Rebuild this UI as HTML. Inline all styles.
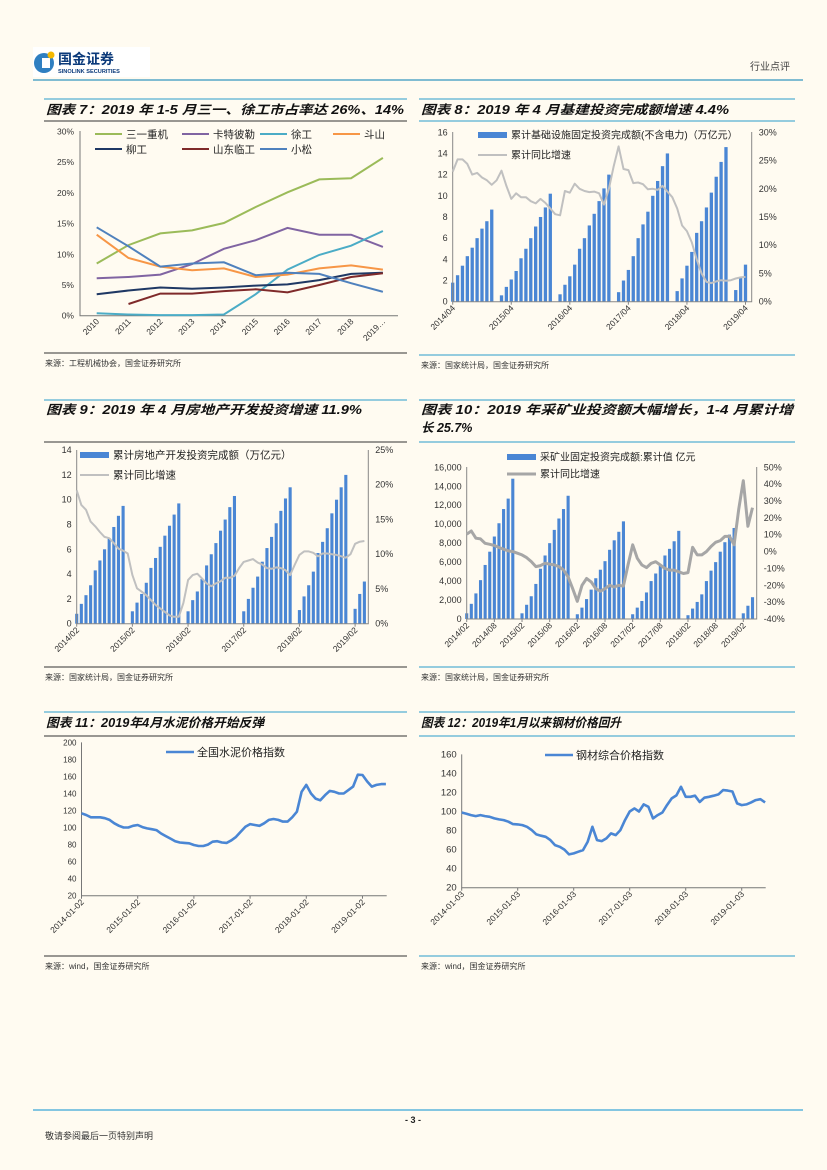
<!DOCTYPE html>
<html><head><meta charset="utf-8">
<style>
html,body{margin:0;padding:0;background:#fffbf1;}
svg{display:block;font-family:"Liberation Sans","Noto Sans CJK SC",sans-serif;}
.t{font-weight:bold;font-style:italic;font-size:12.5px;fill:#111;}
.src{font-size:8px;fill:#333;}
</style></head>
<body>
<svg id="page" width="827" height="1170" viewBox="0 0 827 1170" xmlns="http://www.w3.org/2000/svg">
<rect width="827" height="1170" fill="#fffbf1"/>
<g>
  <rect x="33" y="47" width="117" height="30" fill="#fff"/>
  <circle cx="44" cy="63" r="10" fill="#2f7fc1"/>
  <rect x="42" y="58" width="8" height="10" fill="#fff"/>
  <circle cx="51" cy="55" r="3.5" fill="#f5b800"/>
  <text x="58" y="64" font-size="14" font-weight="bold" fill="#0b3a7a">国金证券</text>
  <text x="58" y="73" font-size="5.6" font-weight="bold" fill="#0b3a7a">SINOLINK SECURITIES</text>
  <text x="790" y="70" font-size="10" text-anchor="end" fill="#444">行业点评</text>
  <line x1="33" y1="80" x2="803" y2="80" stroke="#56a7c8" stroke-width="1.5"/>
</g>
<line x1="44" y1="99" x2="407" y2="99" stroke="#56b0d4" stroke-width="1.2"/>
<text class="t" x="46" y="114" textLength="358" lengthAdjust="spacingAndGlyphs">图表 7：2019 年 1-5 月三一、徐工市占率达 26%、14%</text>
<line x1="44" y1="121" x2="407" y2="121" stroke="#333" stroke-width="1"/>
<line x1="44" y1="353" x2="407" y2="353" stroke="#333" stroke-width="1"/>
<text class="src" x="45" y="366">来源：工程机械协会，国金证券研究所</text>

<line x1="419" y1="99" x2="795" y2="99" stroke="#56b0d4" stroke-width="1.2"/>
<text class="t" x="421" y="114" textLength="308" lengthAdjust="spacingAndGlyphs">图表 8：2019 年 4 月基建投资完成额增速 4.4%</text>
<line x1="419" y1="121" x2="795" y2="121" stroke="#56b0d4" stroke-width="1.2"/>
<line x1="419" y1="355" x2="795" y2="355" stroke="#56b0d4" stroke-width="1.2"/>
<text class="src" x="421" y="368">来源：国家统计局，国金证券研究所</text>

<line x1="44" y1="400" x2="407" y2="400" stroke="#56b0d4" stroke-width="1.2"/>
<text class="t" x="46" y="414" textLength="316" lengthAdjust="spacingAndGlyphs">图表 9：2019 年 4 月房地产开发投资增速 11.9%</text>
<line x1="44" y1="442" x2="407" y2="442" stroke="#333" stroke-width="1"/>
<line x1="44" y1="667" x2="407" y2="667" stroke="#333" stroke-width="1"/>
<text class="src" x="45" y="680">来源：国家统计局，国金证券研究所</text>

<line x1="419" y1="400" x2="795" y2="400" stroke="#56b0d4" stroke-width="1.2"/>
<text class="t" x="421" y="414" textLength="372" lengthAdjust="spacingAndGlyphs">图表 10：2019 年采矿业投资额大幅增长，1-4 月累计增</text>
<text class="t" x="421" y="432">长 25.7%</text>
<line x1="419" y1="442" x2="795" y2="442" stroke="#56b0d4" stroke-width="1.2"/>
<line x1="419" y1="667" x2="795" y2="667" stroke="#56b0d4" stroke-width="1.2"/>
<text class="src" x="421" y="680">来源：国家统计局，国金证券研究所</text>

<line x1="44" y1="712" x2="407" y2="712" stroke="#56b0d4" stroke-width="1.2"/>
<text class="t" x="46" y="727" textLength="218" lengthAdjust="spacingAndGlyphs">图表 11：2019年4月水泥价格开始反弹</text>
<line x1="44" y1="736" x2="407" y2="736" stroke="#333" stroke-width="1"/>
<line x1="44" y1="956" x2="407" y2="956" stroke="#333" stroke-width="1"/>
<text class="src" x="45" y="969">来源：wind，国金证券研究所</text>

<line x1="419" y1="712" x2="795" y2="712" stroke="#56b0d4" stroke-width="1.2"/>
<text class="t" x="421" y="727" textLength="200" lengthAdjust="spacingAndGlyphs">图表 12：2019年1月以来钢材价格回升</text>
<line x1="419" y1="736" x2="795" y2="736" stroke="#56b0d4" stroke-width="1.2"/>
<line x1="419" y1="956" x2="795" y2="956" stroke="#56b0d4" stroke-width="1.2"/>
<text class="src" x="421" y="969">来源：wind，国金证券研究所</text>

<g>
  <line x1="33" y1="1110" x2="803" y2="1110" stroke="#3aa6d8" stroke-width="1.2"/>
  <text x="413" y="1123" font-size="9" font-weight="bold" text-anchor="middle" fill="#222">- 3 -</text>
  <text x="45" y="1139" font-size="9" fill="#333">敬请参阅最后一页特别声明</text>
</g>
<g id="charts"></g>
</svg>
<script>
// ---------- Chart 7 data ----------
const cats7 = ["2010","2011","2012","2013","2014","2015","2016","2017","2018","2019…"];
const sany7 = [8.5,11.5,13.4,13.9,15.1,17.7,20.1,22.2,22.4,25.7];
const cat7 = [6.1,6.3,6.7,8.4,10.9,12.3,14.3,13.2,13.2,11.2];
const xcmg7 = [0.4,0.2,0.1,0.1,0.2,3.5,7.5,9.9,11.4,13.8];
const doosan7 = [13.2,9.4,8.0,7.4,7.7,6.3,6.7,7.7,8.2,7.5];
const liugong7 = [3.5,4.1,4.6,4.4,4.6,4.9,5.1,5.8,6.8,7.0];
const sdlg7 = [null,1.9,3.6,3.6,4.0,4.3,3.8,5.0,6.3,6.9];
const komatsu7 = [14.4,11.3,8.0,8.5,8.7,6.6,7.0,6.8,5.3,3.9];
const names7 = ["三一重机","卡特彼勒","徐工","斗山","柳工","山东临工","小松"];
const yticks7 = [0,5,10,15,20,25,30];
// ---------- Chart 8 data ----------
const xlabels8 = ["2014/04","2015/04","2016/04","2017/04","2018/04","2019/04"];
const bars8 = [1.8,2.5,3.4,4.3,5.1,6.0,6.9,7.6,8.7,null,0.6,1.4,2.1,2.9,4.1,5.0,6.0,7.1,8.0,8.9,10.2,null,0.7,1.6,2.4,3.5,5.0,6.0,7.2,8.3,9.5,10.7,12.0,null,0.9,2.0,3.0,4.3,6.0,7.3,8.5,10.0,11.4,12.8,14.0,null,1.0,2.2,3.4,4.7,6.5,7.6,8.9,10.3,11.8,13.2,14.6,null,1.1,2.3,3.5];
const growth8 = [23.0,25.2,25.2,24.4,22.5,22.8,22.0,21.5,20.7,21.5,23.2,20.5,18.2,19.2,18.5,18.5,17.8,17.4,18.2,17.5,16.5,15.5,15.3,19.6,19.3,20.9,20.0,19.6,19.4,19.5,19.2,17.2,20.0,24.0,27.5,23.5,23.3,21.0,21.1,20.8,19.9,20.0,19.8,20.5,19.5,18.5,16.5,13.5,12.5,10.5,7.5,5.0,3.5,3.3,3.6,3.8,3.7,3.8,4.1,4.3,4.4];
const lticks8 = [0,2,4,6,8,10,12,14,16];
const rticks8 = [0,5,10,15,20,25,30];
// ---------- Chart 9 data ----------
const xlabels9 = ["2014/02","2015/02","2016/02","2017/02","2018/02","2019/02"];
const bars9 = [0.8,1.6,2.3,3.1,4.3,5.1,6.0,6.9,7.8,8.7,9.5,null,1.0,1.7,2.4,3.3,4.5,5.3,6.2,7.1,7.9,8.8,9.7,null,1.0,1.9,2.6,3.6,4.7,5.6,6.5,7.5,8.4,9.4,10.3,null,1.0,2.0,2.9,3.8,5.0,6.1,7.0,8.1,9.1,10.1,11.0,null,1.1,2.2,3.1,4.2,5.7,6.6,7.7,8.9,10.0,11.0,12.0,null,1.2,2.4,3.4];
const growth9 = [19.2,17.1,16.4,14.7,14.0,13.2,12.5,12.3,11.6,10.8,10.5,10.1,7.0,5.1,4.6,4.1,3.4,2.7,2.2,1.7,1.2,1.0,1.0,3.0,6.3,7.0,7.2,6.5,5.8,5.4,5.8,6.1,6.6,6.6,6.9,8.0,8.9,9.1,9.3,8.8,8.5,8.0,7.9,8.1,8.0,7.7,7.0,8.5,9.9,10.4,10.4,10.2,9.7,10.1,10.1,10.0,9.9,9.7,9.5,10.0,11.5,11.8,11.9];
const lticks9 = [0,2,4,6,8,10,12,14];
const rticks9 = [0,5,10,15,20,25];
// ---------- Chart 10 data ----------
const xlabels10 = ["2014/02","2014/08","2015/02","2015/08","2016/02","2016/08","2017/02","2017/08","2018/02","2018/08","2019/02"];
const bars10 = [600,1600,2700,4100,5700,7100,8700,10100,11600,12700,14800,null,600,1500,2400,3700,5300,6700,8000,9400,10600,11600,13000,null,500,1200,2100,3100,4300,5200,6100,7300,8300,9200,10300,null,500,1200,1900,2800,4000,4800,5700,6700,7400,8200,9300,null,400,1100,1800,2600,4000,5100,6000,7100,8100,8900,9600,null,600,1400,2300];
const growth10 = [10.3,12.2,7.9,7.5,4.9,4.3,3.6,2.4,1.4,0.4,0,-1,-2,-3.6,-5.9,-8.9,-8.3,-6.9,-7.5,-7.9,-8.9,-10.9,-15,-22,-29.5,-20,-16,-18,-22,-23.5,-22,-20,-21,-20,-20.5,-8,4,-4,-8,-9.5,-7,-6,-8,-10,-11,-11,-12,-13,-12.5,2.5,-2,-2,0,3,5.5,6.5,9,9,4,25,42,15,26];
const lticks10 = [0,2000,4000,6000,8000,10000,12000,14000,16000];
const rticks10 = [-40,-30,-20,-10,0,10,20,30,40,50];
// ---------- Chart 11 data ----------
const xlabels11 = ["2014-01-02","2015-01-02","2016-01-02","2017-01-02","2018-01-02","2019-01-02"];
const cement11 = [116.7,114.7,112,112,112,111,109,105,102,100,100,102,103,100.5,99,98,97,93,90,87,84,82.5,82,81.5,79.5,78.3,78.3,80,83.4,84,82.5,82,85,89,95,101,104,103,102,105,109,110,109,107,107,112,118.6,142,150,140,134,132,138,143,142,140,140,144,148,162,161.7,154,148,150,151,151];
const yticks11 = [20,40,60,80,100,120,140,160,180,200];
// ---------- Chart 12 data ----------
const xlabels12 = ["2014-01-03","2015-01-03","2016-01-03","2017-01-03","2018-01-03","2019-01-03"];
const steel12 = [99,97.7,96.3,95.2,96.3,95.2,94.5,92.8,91.7,91,89.3,86.8,86.5,85.8,84,80.5,76,74.6,73.5,70,64.8,63,60,55,56,57.8,59.5,68.3,84,70,69,71.8,77,75.2,80.5,91,100,103.3,100,107.5,105,92.8,96.3,99,106.8,113.8,117,126,115.5,115.5,116.6,110,114.5,115.5,116.6,118,122.5,122,121,108.5,106.8,107.5,109.6,112,113,109.6];
const yticks12 = [20,40,60,80,100,120,140,160];

const NS = 'http://www.w3.org/2000/svg';
const root = document.getElementById('charts');
function mk(tag, attrs, parent){const e=document.createElementNS(NS,tag);for(const k in attrs)e.setAttribute(k,attrs[k]);(parent||root).appendChild(e);return e;}
function tx(str, attrs, parent){const e=mk('text',attrs,parent);e.textContent=str;return e;}
function pathOf(vals, xf, yf){let d='',pen=false;vals.forEach((v,i)=>{if(v===null||v===undefined){pen=false;return;}d+=(pen?'L':'M')+xf(i).toFixed(1)+' '+yf(v).toFixed(1)+' ';pen=true;});return d;}
function rotLabel(g, str, x, y, fs){const t=tx(str,{x:x,y:y,'font-size':fs||8,fill:'#333','text-anchor':'end',transform:'rotate(-45 '+x+' '+y+')'},g);return t;}

// ===== Chart 7 =====
(function(){
  const g = mk('g',{});
  
  
  const x = i => 96.7 + i*31.8;
  const y = v => 315.7 - v*6.14;
  yticks7.forEach(v=>{
    const t = tx(v+'%',{x:74,y:y(v)+3,'text-anchor':'end','font-size':8.5,fill:'#333'},g);
    
    
  });
  const ax = mk('path',{d:'M80 131V315.7H398',fill:'none',stroke:'#777','stroke-width':1},g);
  
  
  cats7.forEach((c,i)=>{
    const t = rotLabel(g,c,x(i)+3,322,8.5);
    
    
  });
  const series = [sany7,cat7,xcmg7,doosan7,liugong7,sdlg7,komatsu7];
  const colors = ['#9bbb59','#8064a2','#4bacc6','#f79646','#1f3864','#7f2a2a','#4f81bd'];
  series.forEach((s,k)=>{
    const p = mk('path',{d:pathOf(s,x,y),fill:'none',stroke:colors[k],'stroke-width':2},g);
    
    
  });
  const lx = [95,182,260,333,95,182,260];
  const ly = [134,134,134,134,149,149,149];
  names7.forEach((n,k)=>{
    const l = mk('line',{x1:lx[k],y1:ly[k],x2:lx[k]+27,y2:ly[k],stroke:colors[k],'stroke-width':2},g);
    
    
    const t = tx(n,{x:lx[k]+31,y:ly[k]+4,'font-size':10.5,fill:'#222'},g);
    
    
  });
})();

function dualChart(o){
  const g = mk('g',{});
  
  
  const x = i => o.x0 + i*o.dx;
  const yl = v => o.yb - (v-o.lmin)*o.lk;
  const yr = v => o.yb - (v-o.rmin)*o.rk;
  o.bars.forEach((v,i)=>{
    if(v===null) return;
    const r = mk('rect',{x:x(i)-o.bw/2,y:yl(v),width:o.bw,height:o.yb-yl(v),fill:'#4a86d4'},g);
    
    
  });
  const ax = mk('path',{d:'M'+o.axL+' '+o.ytop+'V'+o.yb+'H'+o.axR+'V'+o.ytop,fill:'none',stroke:'#888','stroke-width':1},g);
  
  
  const p = mk('path',{d:pathOf(o.line,x,yr),fill:'none',stroke:o.lc,'stroke-width':o.lw,'stroke-linejoin':'round'},g);
  
  
  o.lt.forEach(v=>{
    const t = tx(o.lfmt(v),{x:o.axL-5,y:yl(v)+3,'text-anchor':'end','font-size':9,fill:'#333'},g);
    
    
  });
  o.rt.forEach(v=>{
    const t = tx(v+'%',{x:o.axR+7,y:yr(v)+3,'font-size':9,fill:'#333'},g);
    
    
  });
  o.xl.forEach((s,k)=>{
    const xi = x(k*o.xstep);
    const tk = mk('line',{x1:xi,y1:o.yb,x2:xi,y2:o.yb+3,stroke:'#888'},g);
    
    
    const t = rotLabel(g,s,xi+3,o.yb+7,8.5);
    
    
  });
  const sw = mk('rect',{x:o.legX,y:o.legY-3,width:29,height:6,fill:'#4a86d4'},g);
  
  
  const t1 = tx(o.leg1,{x:o.legX+33,y:o.legY+3.5,'font-size':o.lfs,fill:'#222'},g);
  
  
  const sl = mk('line',{x1:o.legX,y1:o.legY+o.legGap,x2:o.legX+29,y2:o.legY+o.legGap,stroke:o.lc,'stroke-width':o.lw},g);
  
  
  const t2 = tx('累计同比增速',{x:o.legX+33,y:o.legY+o.legGap+3.5,'font-size':o.lfs,fill:'#222'},g);
  
  
}

dualChart({name:'chart8',x0:452.7,dx:4.88,bw:3.3,yb:301.7,ytop:132,lmin:0,lk:10.59,rmin:0,rk:5.647,axL:452.7,axR:751.7,
  bars:bars8,line:growth8,lc:'#c0c0c0',lw:2,lt:lticks8,rt:rticks8,lfmt:v=>String(v),xl:xlabels8,xstep:12,
  legX:478,legY:135,legGap:20,lfs:10,leg1:'累计基础设施固定投资完成额(不含电力)（万亿元）'});
dualChart({name:'chart9',x0:76.7,dx:4.64,bw:3.1,yb:623.7,ytop:450,lmin:0,lk:12.4,rmin:0,rk:6.948,axL:76.7,axR:368.3,
  bars:bars9,line:growth9,lc:'#c0c0c0',lw:2,lt:lticks9,rt:rticks9,lfmt:v=>String(v),xl:xlabels9,xstep:12,
  legX:80,legY:455,legGap:20,lfs:10.5,leg1:'累计房地产开发投资完成额（万亿元）'});
dualChart({name:'chart10',x0:466.7,dx:4.61,bw:3.1,yb:619,ytop:467,lmin:0,lk:0.00948,rmin:-40,rk:1.686,axL:466.7,axR:756.7,
  bars:bars10,line:growth10,lc:'#a6a6a6',lw:3,lt:lticks10,rt:rticks10,lfmt:v=>v.toLocaleString('en-US'),xl:xlabels10,xstep:6,
  legX:507,legY:457,legGap:17,lfs:10,leg1:'采矿业固定投资完成额:累计值 亿元'});

function priceChart(o){
  const g = mk('g',{});
  
  
  const x = m => o.x0 + m*o.dx;
  const y = v => o.yb - (v-20)*o.k;
  o.yt.forEach(v=>{
    const t = tx(String(v),{x:o.x0-5,y:y(v)+3,'text-anchor':'end','font-size':o.fs,fill:'#333'},g);
    
    
  });
  const ax = mk('path',{d:'M'+o.x0+' '+y(o.yt[o.yt.length-1])+'V'+o.yb+'H'+o.xr,fill:'none',stroke:'#777','stroke-width':1},g);
  
  
  o.xl.forEach((s,k)=>{
    const xi = x(k*12);
    const tk = mk('line',{x1:xi,y1:o.yb,x2:xi,y2:o.yb+3,stroke:'#777'},g);
    
    
    const t = rotLabel(g,s,xi+3,o.yb+7,8.5);
    
    
  });
  const p = mk('path',{d:pathOf(o.vals,x,y),fill:'none',stroke:'#4a86d4','stroke-width':2.6,'stroke-linejoin':'round'},g);
  
  
  const l = mk('line',{x1:o.legX,y1:o.legY,x2:o.legX+28,y2:o.legY,stroke:'#4a86d4','stroke-width':2.6},g);
  
  
  const t = tx(o.leg,{x:o.legX+31,y:o.legY+4,'font-size':11,fill:'#222'},g);
  
  
}
priceChart({name:'chart11',x0:81.5,dx:4.683,yb:895.7,k:0.852,xr:386.7,fs:8,vals:cement11,yt:yticks11,xl:xlabels11,legX:166,legY:752,leg:'全国水泥价格指数'});
priceChart({name:'chart12',x0:461.7,dx:4.667,yb:887.7,k:0.952,xr:765.7,fs:9.5,vals:steel12,yt:yticks12,xl:xlabels12,legX:545,legY:755,leg:'钢材综合价格指数'});
</script>
</body></html>
